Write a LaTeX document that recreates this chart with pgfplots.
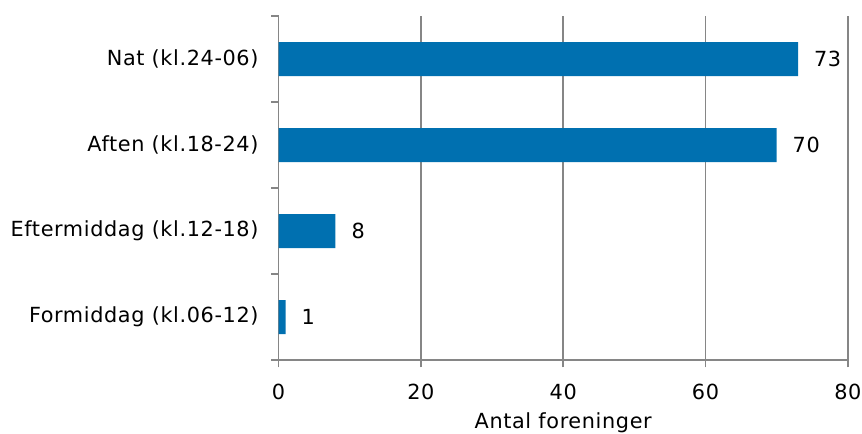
\documentclass[border=0pt]{standalone}
\usepackage{fontspec}
\setmainfont{DejaVu Sans}[LetterSpace=3]
\usepackage{pgfplots}
\pgfplotsset{compat=1.18}
\definecolor{barblue}{RGB}{0,112,176}
\definecolor{gridgray}{RGB}{134,134,134}

\begin{document}
\begin{tikzpicture}
\begin{axis}[
  width=427pt, height=258pt, scale only axis,
  xbar, bar width=25.5pt,
  xmin=0, xmax=80, ymin=-0.5, ymax=3.5,
  xtick={0,20,40,60,80},
  ytick={-0.5,0.5,1.5,2.5,3.5}, yticklabels={},
  extra y ticks={0,1,2,3},
  extra y tick labels={Formiddag (kl.06-12),Eftermiddag (kl.12-18),Aften (kl.18-24),Nat (kl.24-06)},
  extra y tick style={major tick length=0pt, yticklabel style={xshift=-11.5pt}},
  axis x line*=bottom, axis y line*=left,
  axis line style={gridgray, line width=1.1pt},
  tick style={gridgray, line width=1.1pt},
  tick align=outside, major tick length=5.5pt,
  xmajorgrids, grid style={gridgray, line width=1.1pt},
  font=\fontsize{15.6}{18}\selectfont,
  /pgf/number format/assume math mode=true,
  xticklabel style={yshift=-9pt},
  xlabel={Antal foreninger},
  xlabel style={at={(axis description cs:0.5,0)}, anchor=base, yshift=-51pt},
  nodes near coords, nodes near coords align=horizontal,
  every node near coord/.append style={black, xshift=8.5pt},
  clip=false,
]
\addplot[fill=barblue, draw=none] coordinates {(1,0) (8,1) (70,2) (73,3)};
\end{axis}
\pgfresetboundingbox
\path[use as bounding box] (-208.9pt,-54.75pt) rectangle (437.6pt,270pt);
\end{tikzpicture}
\end{document}
